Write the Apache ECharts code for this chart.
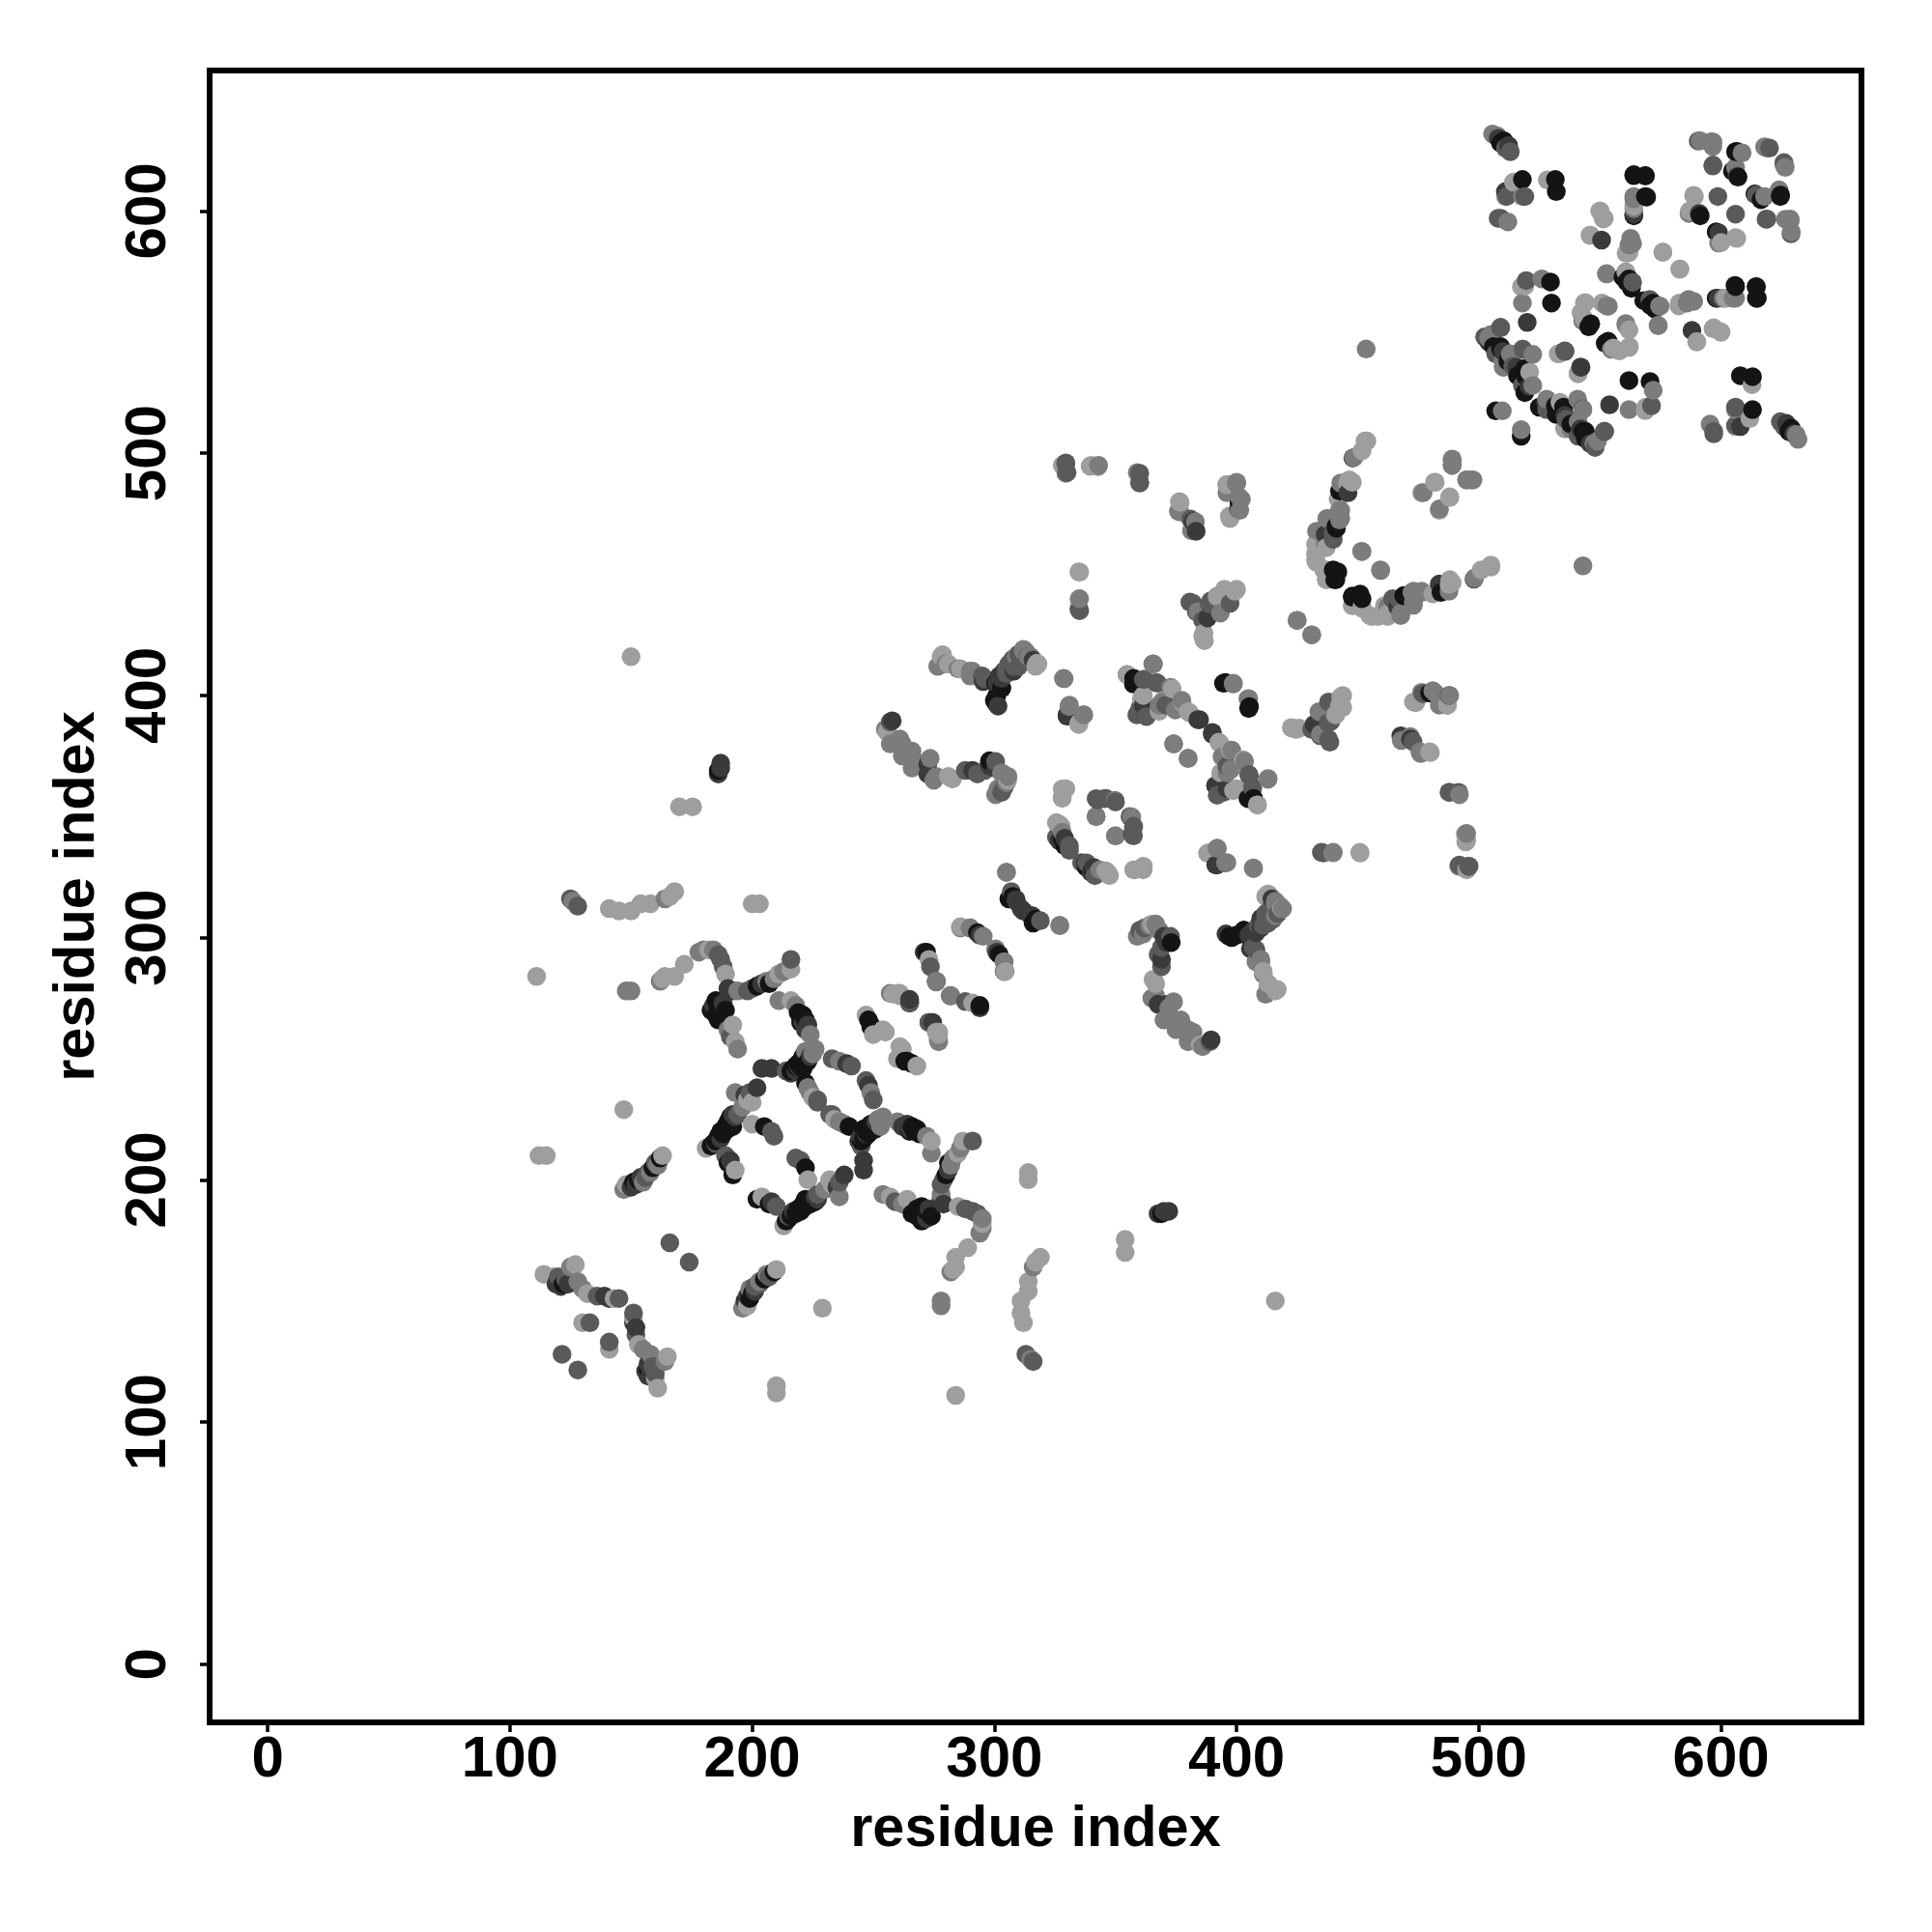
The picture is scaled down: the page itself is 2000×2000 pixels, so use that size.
<!DOCTYPE html>
<html><head><meta charset="utf-8">
<style>html,body{margin:0;padding:0;background:#fff}#c{width:2000px;height:2000px}</style>
<script src="https://cdn.jsdelivr.net/npm/echarts@6/dist/echarts.min.js"></script></head>
<body><div id="c"></div>
<script>
const tickValues=[0,100,200,300,400,500,600];
const axisName="residue index";
const grayLevels=["#141414","#3a3a3a","#5a5a5a","#7c7c7c","#9e9e9e"];
const contacts0=[[185,274],[186,271],[187,269],[188,268],[202,280],[207,281],[219,269],[220,267],[220,249],[222,250],[191,224],[190,221],[188,219],[192,222],[190,207],[192,202],[205,222],[240,222],[153,200],[159,205],[162,209],[122,157],[248,266],[249,264],[249,263],[265,273],[272,294],[293,302],[186,369],[300.5,397],[300.5,405],[357.5,407],[395.4,405.3],[405,394.6],[404.7,357.4],[326.9,340],[340.9,328],[479.7,401],[442.5,484.4],[441.2,469],[439.9,451.8],[440.5,447.8],[447.8,441],[451,441.8],[469.8,441],[403,303],[373,298],[307.6,317],[510.3,629],[518,613],[531.6,613],[532,608],[564,615],[568.8,614.5],[568.8,606],[564,598],[606,624.5],[604.7,616.5],[614,607],[624.6,606.6],[591.4,598],[529.6,570.7],[530,562],[509,544],[559.5,572.7],[562,572],[570.8,561],[568.1,563],[546.2,553.4],[552.2,545.4],[605.8,569.3],[614.6,568.7],[614.6,564],[519.5,531.6],[519,535],[509,543],[507,517.5],
[183,214],[184,215],[185,216],[186,218],[187,220],[189,222],[190,224],[191,226],[216,245],[217,246],[218,247],[219,248],[220,247],[221,246],[222,248],[223,249],[221,251],[220,265],[221,268],[222,266],[183,270],[185,268],[187,272],[189,270],[186,266],[151,199],[509,628],[506,544],[512,538],[516,532],[519,525],[398,300],[400,301],[306,316],[303,403],[338,329]];
const contacts1=[[184,272],[190,279],[192,278],[204,281],[221,265],[222,262],[219,247],[218,245],[216,244],[208,246],[204,246],[239,248],[202,238],[197,235],[193,226],[187,217],[191,208],[150,197],[152,198],[120,158],[124,157],[139,152],[141,151],[294,301],[187,372],[304,410],[271,294],[315.7,309],[330,392],[337.5,330.8],[384,390],[361.5,396],[390,384.7],[391.4,362.7],[432,388],[467.8,383.3],[471.8,382],[436.6,466.4],[483.7,446],[395.6,301.5],[405.7,295.4],[370,300.5],[367.6,272.5],[371.6,272.5],[389.5,257.8],[391.4,330],[414.6,316],[512.3,627],[511,608],[520,554],[542.2,535.5],[515.6,535.5],[591,599],[588,550.7],[598.7,564],[520.8,527.6],[367.6,186],[265,274.5],[187,370],
[192,227],[224,251],[223,264],[188,273],[154,201],[119,157],[121,156],[508,630],[504,546],[510,542],[405,301],[407,303],[410,308],[371,298],[369,291],[309,315],[312,311],[302,408],[340,327],[329,341]];
const contacts2=[[125,316],[128,313],[186,293],[187,291],[188,288],[191,259],[198,278],[200,279],[216,291],[214,245],[241,247],[233,250],[199,236],[185,215],[194,227],[189,210],[208,220],[209,218],[227,233],[232,227],[156,201],[160,207],[136,152],[145,151],[166,174],[133,141],[121.5,128],[265,274],[273,265],[276,282],[329.5,496],[330,492],[257,389],[296,407],[307.6,415],[288,369],[296,369],[300.5,372.7],[319,307],[360,488],[381,472.8],[400.7,477],[448,498],[439.9,464.4],[467,439.8],[334.9,435.8],[388.7,437.8],[380.7,438.5],[383.4,434.5],[386,431],[361.5,406.6],[366.8,405.3],[362.8,391.3],[358.8,392],[370.8,396],[394.7,360],[405,367.4],[406.6,362],[438,397.3],[439,389.3],[438,382],[487.7,400],[487.7,360],[491.7,360],[495.7,329.5],[435,335.2],[342,357.4],[345.5,357.4],[356,350],[357.5,346],[356.8,342.7],[325.6,341.5],[330.9,338],[412,308],[360,303],[367.6,293],[273.6,288],[508,597],[513,624.5],[509,597],[596.7,619],[606.7,614.5],[620,626],[618.6,596.6],[628.9,590.6],[598.7,606],[519.6,571.3],[509,552],[502.4,548],[518.3,542.8],[535.6,542],[563.5,570.6],[509,551.8],[519,606],[511.5,606],[313.6,415.9],
[123,159],[120,160],[157,203],[511,626],[507,541],[514,536],[518,528],[409,305],[412,310],[414,312],[408,295],[362,304],[305,411],[306,413],[310,417],[331,336]];
const contacts3=[[126,315],[164,316],[148,278],[150,278],[162,282],[178,294],[180,295],[184,295],[194,254],[190,262],[194,278],[206,282],[209,283],[213,286],[211,274],[218,272],[224,260],[226,254],[222,253],[225,252],[236,249],[193,236],[196,230],[223,238],[224,236],[236,224],[238,223],[147,196],[155,199],[158,203],[161,206],[125,164],[128,158],[130,155],[257,277],[290,304],[282,276],[286,304],[271,372],[255,386],[261,382],[266,377],[273.5,374],[276,366.6],[291,410],[312,419],[301.5,361.5],[305.6,366.6],[300.5,359],[305,327],[327,305],[276,281.7],[300.5,295.4],[304,290],[343,495],[359,492],[376,476],[383,471.7],[381.4,468],[400,488],[401,482],[489,497.6],[489,495],[497,489],[495,489],[483.7,477],[443,487.7],[442.5,476.4],[442.5,472.4],[437.2,473],[433.9,467.7],[436.6,462.4],[467.8,433],[473,438.5],[473,443],[476.4,443],[498.3,448.5],[451.6,459.5],[459.4,451.8],[425,431],[431,425],[392,440.5],[365.4,413],[372.8,403.3],[368,396],[398,377.4],[394,374.7],[397.6,369.4],[408.6,354.8],[413,365.7],[374,380],[380,374],[398.7,405],[404.7,398.6],[328.5,407],[331,396],[336.9,392],[434,393.3],[434.6,384],[476.4,401.3],[481,402],[487,396],[483.7,396],[475.7,376.7],[491.7,329.5],[439.9,335.2],[349.8,356.7],[342,350],[350,342],[343.5,328],[392,336.8],[395.4,330.8],[406.9,328.8],[418,313],[408,290],[411,285],[413,280],[412,276.6],[365,275],[370,266],[375,262],[380,262],[380,257],[505.7,631.8],[507.7,631],[518,606],[512,595.5],[564,605],[564,601],[563.5,586.6],[591.4,629],[596.7,628.5],[608.7,624],[618,626.5],[626,619],[618,606],[628.6,596],[626.6,596.6],[586.8,599],[526,572],[518,562],[522.3,540.8],[510.3,535.5],[522.3,528],[552.8,574],[553.5,560.7],[574.8,560.7],[574.1,552.7],[542.9,554.7],[560.8,552.8],[586,562],[588.7,562.7],[606,564],[509.7,517.5],[510,538],[504,547.5],[518,543],[453.5,543],
[513,541],[505,549],[416,314],[410,290],[368,303],[309,416],[315,416],[303,368],[305,364]];
const contacts4=[[141,312],[145,311],[150,311],[154,314],[158,314],[166,317],[168,319],[200,314],[203,314],[111,284],[163,283],[164,284],[168,284],[172,289],[182,295],[189,285],[192,264],[193,257],[211,285],[216,287],[216,274],[200,232],[198,233],[181,213],[193,204],[200,223],[225,234],[148,198],[163,210],[112,210],[115,210],[147,229],[114,161],[118,160],[127,165],[132,153],[130,141],[143,151],[260,277],[261,277],[247,268],[254,262],[250,260],[255,261],[273,291],[276,261],[276.7,258],[278,416],[281,413],[286,411],[317,412],[281,366.6],[170,354],[175.4,354],[150,416],[286,304.5],[339.5,494.6],[328,495],[376.4,480],[396,487],[397,474],[453,505],[476.4,483.7],[481.7,488],[488,482],[446.5,489],[441.9,481],[432.6,462.4],[432.6,458.4],[432.6,455.8],[436,451.8],[437.2,447.8],[447.8,437],[451.8,437],[455,433],[459,433],[462.5,433.8],[461,437],[487.7,445.8],[488,447.8],[501,451.8],[505,453.8],[334.9,451],[334.9,439.8],[400,443.8],[395,443.8],[386.5,423],[386.5,425.8],[354.8,408.6],[377.4,397.3],[380,393.3],[361.5,400],[392.7,380.7],[402.7,373.4],[393.4,368],[398.7,360.7],[335,388.6],[317.6,412.6],[422.6,386.7],[424.6,386],[443,399.3],[442.5,396],[441,392],[473,397.3],[479.7,376.7],[494.4,342.8],[495,340],[450.9,335.2],[328,361.4],[328,358],[325.6,347.5],[327.6,346],[346.8,326.8],[357.5,328],[361.5,329.5],[388,334.8],[413.3,317.6],[418.6,312],[413,318],[416.8,278.6],[365,305.5],[365.5,282.7],[385,255.7],[514.3,611.9],[511,606],[528.3,612.8],[550,600],[551.8,597],[546,590],[560.8,582.6],[576,583],[583,576],[588.7,606.5],[600,587],[589,606],[517.6,568.7],[533,541],[541,532.8],[521,533.5],[560.8,574.7],[543.6,562],[550.9,562],[542.2,558],[555.5,543.4],[562.2,544],[582.8,562],[590,546],[596.7,551.4],[600,550],[602,564],[510,535.6],[519,569]];
const allContacts=[contacts0,contacts1,contacts2,contacts3,contacts4];
const chart=echarts.init(document.getElementById('c'),null,{renderer:'canvas'});
const font='"Liberation Sans"';
const rows=[];
allContacts.forEach((list,k)=>list.forEach(p=>{
  rows.push({value:[p[0],p[1]],itemStyle:{color:grayLevels[k],opacity:1}});
  rows.push({value:[p[1],p[0]],itemStyle:{color:grayLevels[k],opacity:1}});
}));
rows.sort((a,b)=>a.value[0]-b.value[0]||a.value[1]-b.value[1]);
function axis(rot,margin,gap){return {
  type:'value',min:-24,max:658,name:axisName,nameLocation:'middle',nameGap:gap,
  nameTextStyle:{fontFamily:font,fontWeight:'bold',fontSize:59.5,color:'#000'},
  splitLine:{show:false},axisLine:{show:false,onZero:false},
  axisTick:{show:true,length:10,customValues:tickValues,lineStyle:{color:'#000',width:3.5}},
  axisLabel:{customValues:tickValues,rotate:rot,margin:margin,fontFamily:font,fontWeight:'bold',fontSize:60,color:'#000'}
};}
chart.setOption({
  animation:false,backgroundColor:'#fff',
  grid:{left:217,top:73,width:1710,height:1710,show:true,borderColor:'#000',borderWidth:6,backgroundColor:'transparent'},
  xAxis:axis(0,9,82),
  yAxis:axis(90,33,106),
  series:[{type:'scatter',symbol:'circle',symbolSize:19.5,silent:true,itemStyle:{opacity:1},data:rows}]
});
</script></body></html>
